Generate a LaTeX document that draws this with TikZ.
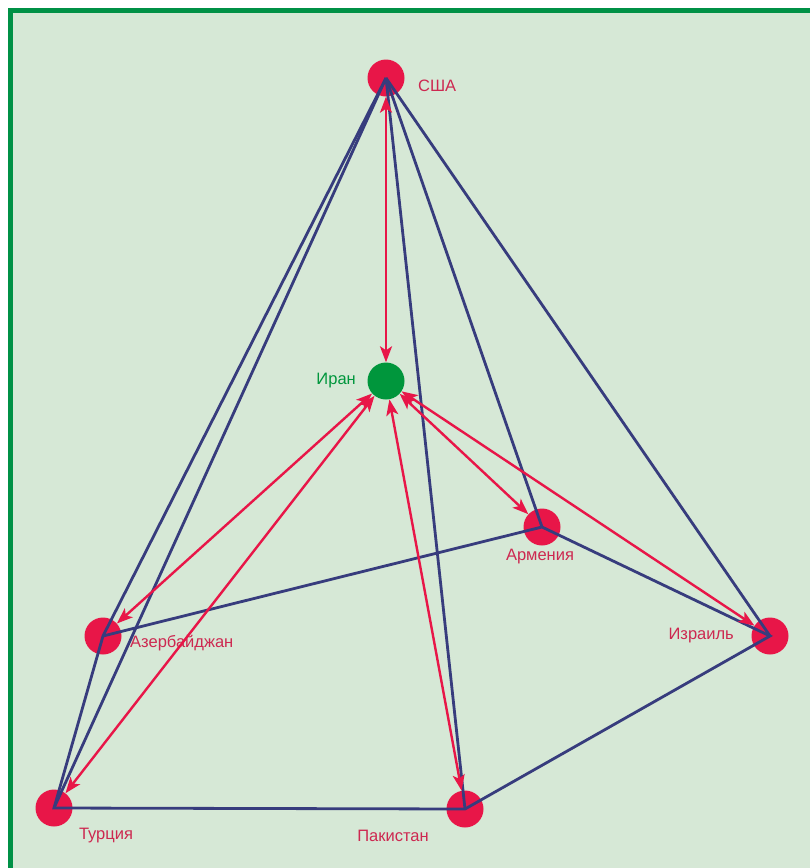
\documentclass[tikz,border=0pt]{standalone}
\usepackage{fontspec}
\setmainfont{Liberation Sans}
\usetikzlibrary{arrows.meta}

\definecolor{panelbg}{RGB}{214,232,214}
\definecolor{framegreen}{RGB}{0,145,70}
\definecolor{statered}{RGB}{232,22,72}
\definecolor{labelred}{RGB}{205,40,80}
\definecolor{irangreen}{RGB}{0,150,60}
\definecolor{linkblue}{RGB}{55,60,125}

\begin{document}
\begin{tikzpicture}[
			x=1pt, y=-1pt,
			every node/.style={font=\fontsize{16.5}{18}\selectfont},
			state/.style={circle, fill=statered, minimum size=37pt, inner sep=0pt},
			hub/.style={circle, fill=irangreen, minimum size=37pt, inner sep=0pt},
			lbl/.style={text=labelred, inner sep=0pt},
			link/.style={draw=linkblue, line width=2.8pt},
			tie/.style={draw=statered, line width=2.4pt, {Stealth[length=16pt,width=12pt,inset=4pt]}-{Stealth[length=16pt,width=12pt,inset=4pt]}}
			]
			\useasboundingbox (0,0) rectangle (810,868);
			\fill[panelbg] (8,8) rectangle (810,868);
			\draw[framegreen, line width=5pt] (10.5,868) -- (10.5,10.5) -- (810,10.5);
			
			% countries
			\node[state] (usa) at (386,78) {};
			\node[hub] (iran) at (386,381) {};
			\node[state] (armenia) at (542,527) {};
			\node[state] (azer) at (103,636) {};
			\node[state] (israel) at (770,636) {};
			\node[state] (turkey) at (54,808) {};
			\node[state] (pakistan) at (465,809) {};
			
			\node[lbl, anchor=west] (usalbl) at (418,86) {США};
			\node[lbl, anchor=east, text=irangreen] (iranlbl) at (356,381) {Иран};
			\node[lbl] (armenialbl) at (540,557) {Армения};
			\node[lbl, anchor=west] (azerlbl) at (130,643) {Азербайджан};
			\node[lbl, anchor=east] (israellbl) at (734,636) {Израиль};
			\node[lbl] (turkeylbl) at (106,836) {Турция};
			\node[lbl] (pakistanlbl) at (393,836) {Пакистан};
			
			% links between states
			\draw[link] (usa.center) -- (turkey.center);
			\draw[link] (usa.center) -- (azer.center) -- (turkey.center) -- (pakistan.center) -- (israel.center) -- (armenia.center) -- (azer.center);
			\draw[link] (usa.center) -- (pakistan.center);
			\draw[link] (usa.center) -- (armenia.center);
			\draw[link] (usa.center) -- (israel.center);
			
			% ties with Iran
			\draw[tie] (iran) -- (usa);
			\draw[tie] (iran) -- (azer);
			\draw[tie] (iran) -- (turkey);
			\draw[tie] (iran) -- (pakistan);
			\draw[tie] (iran) -- (armenia);
			\draw[tie] (iran) -- (israel);
		\end{tikzpicture}
\end{document}
